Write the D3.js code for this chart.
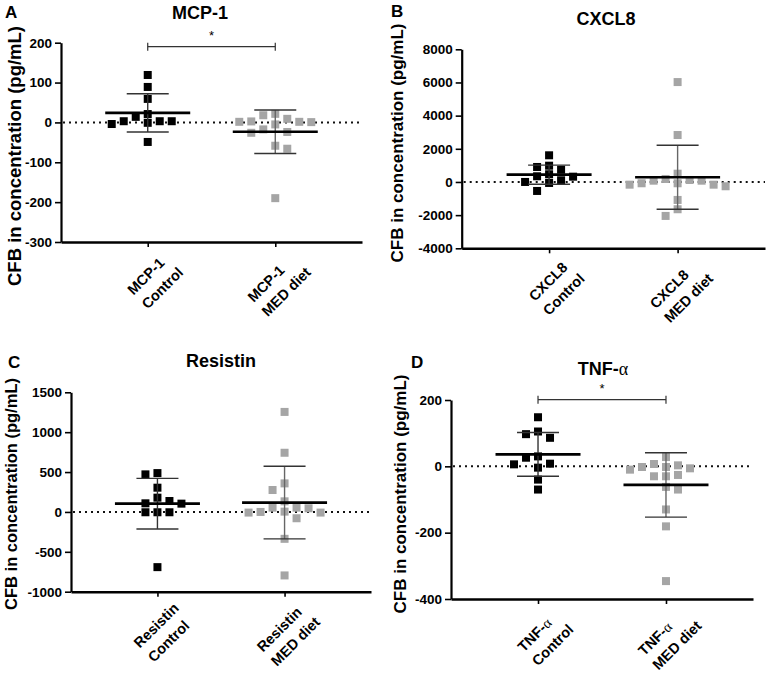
<!DOCTYPE html>
<html><head><meta charset="utf-8">
<script src="https://cdn.jsdelivr.net/npm/d3@7"></script>
<style>
body{margin:0;background:#fff}
svg{display:block}
text{font-family:"Liberation Sans",Arial,Helvetica,sans-serif;fill:#000}
</style>
</head><body>
<svg id="chart" width="767" height="674"></svg>
<script>
// ---------- data ----------
const groups = ["Control", "MED diet"];

const mcpTicks = [-300, -200, -100, 0, 100, 200];
const mcpControl = [14, 3, -1, 59, 119, -4, -49, 89, 3, 3, 21];
const mcpMed = [1.5, 1.5, -17.5, 18, -58.5, -26, 9, -190, -24, -66, 21.5, -5, 0.75, 2.5];
const mcpMean = [24, -23.5];
const mcpSD = [48, 54.5];
const mcpSig = 190;

const cxclTicks = [-4000, -2000, 0, 2000, 4000, 6000, 8000];
const cxclControl = [982, 740, 1608, 343, 319, 464, 904, 0, -60, 102, -542];
const cxclMed = [6024, 2831, 500, 181, 78, -78, -163, -259, -163, -78, 78, 120, -1084, -1645, -2048];
const cxclMean = [440, 283];
const cxclSD = [575, 1928];

const resTicks = [-1000, -500, 0, 500, 1000, 1500];
const resControl = [487, 471, 304, 179, 137, 104, 108, -4, -4, -4, -692];
const resMed = [1254, 742, 358, 275, 133, 54, 4, -8, -79, -8, 0, 46, 54, -337, -796];
const resMean = [104, 117];
const resSD = [317, 455];

const tnfTicks = [-400, -200, 0, 200];
const tnfControl = [148, 105, 86, 97, 26, 30, 6, -4, 8, -40, -70];
const tnfMed = [-2, -6, -26, 28, -30, 7, -30, -10, -2, 3, -62, -70, -130, -181, -346];
const tnfMean = [36, -56];
const tnfSD = [66, 97];
const tnfSig = 201;

const yTitle = "CFB in concentration (pg/mL)";

// ---------- layout ----------
const svg = d3.select("#chart");
const H = 674;
const panels = [
  {letter:"A", name:"MCP-1", alpha:false, ticks:mcpTicks, ctrl:mcpControl, med:mcpMed, mean:mcpMean, sd:mcpSD, sig:mcpSig,
   left:61, right:362, top:42.7, bottom:242, lx:5, ly:18, tx:200, ty:19, ytx:14, yty:156, yts:18.5},
  {letter:"B", name:"CXCL8", alpha:false, ticks:cxclTicks, ctrl:cxclControl, med:cxclMed, mean:cxclMean, sd:cxclSD, sig:null,
   left:461.7, right:765, top:49.3, bottom:248.3, lx:391, ly:17, tx:606, ty:25, ytx:397, yty:143, yts:17},
  {letter:"C", name:"Resistin", alpha:false, ticks:resTicks, ctrl:resControl, med:resMed, mean:resMean, sd:resSD, sig:null,
   left:71, right:371, top:392.3, bottom:591.7, lx:8, ly:368, tx:221, ty:367, ytx:11, yty:494, yts:16.5},
  {letter:"D", name:"TNF-", alpha:true, ticks:tnfTicks, ctrl:tnfControl, med:tnfMed, mean:tnfMean, sd:tnfSD, sig:tnfSig,
   left:451, right:753, top:400, bottom:599, lx:411, ly:368, tx:603, ty:375, ytx:400, yty:494, yts:17}
];

const GREY = "#a5a5a5";
const SQ = 8;
const LFS = 14.5;   // x label font size
const GAP = 20;     // line spacing of x labels

function dodge(vals, y, w, h) {
  const order = vals.map((v, i) => i).sort((a, b) => vals[b] - vals[a]);
  const placed = [];
  const xs = new Array(vals.length);
  let side = -1;
  order.forEach(i => {
    const yi = y(vals[i]);
    const near = placed.filter(p => Math.abs(p.y - yi) < h);
    const cands = [0];
    near.forEach(p => cands.push(p.x - w, p.x + w));
    const ok = c => near.every(p => Math.abs(p.x - c) >= w - 1e-6);
    let best = null;
    cands.filter(ok).forEach(c => {
      if (best === null) { best = c; return; }
      const a = Math.abs(c), b = Math.abs(best);
      if (a < b - 1e-6 || (Math.abs(a - b) < 1e-6 && Math.sign(c) === side)) best = c;
    });
    if (best !== 0) side = -side;
    xs[i] = best;
    placed.push({x: best, y: yi});
  });
  return xs;
}

function nameLine(sel, p) {
  sel.append("tspan").text(p.name);
  if (p.alpha) sel.append("tspan").attr("font-family", "'Liberation Serif','DejaVu Serif',serif").attr("font-weight", "normal").text("\u03b1");
}

panels.forEach(p => {
  const g = svg.append("g");
  const y = d3.scaleLinear().domain(d3.extent(p.ticks)).range([p.bottom, p.top]);
  const x = d3.scalePoint().domain(groups).range([p.left, p.right]).padding(0.68);

  // panel letter and title
  g.append("text").attr("x", p.lx).attr("y", p.ly).attr("font-size", 17).attr("font-weight", "bold").text(p.letter);
  const title = g.append("text").attr("x", p.tx).attr("y", p.ty).attr("text-anchor", "middle")
    .attr("font-size", 18).attr("font-weight", "bold");
  nameLine(title, p);

  // y axis title
  g.append("text").attr("transform", `translate(${p.ytx},${p.yty}) rotate(-90)`)
    .attr("text-anchor", "middle").attr("dy", "0.36em").attr("font-size", p.yts).attr("font-weight", "bold").text(yTitle);

  // y axis
  const ya = g.append("g").attr("transform", `translate(${p.left},0)`)
    .call(d3.axisLeft(y).tickValues(p.ticks).tickSize(6).tickSizeOuter(0).tickPadding(3).tickFormat(d3.format("d")));
  ya.select(".domain").attr("stroke", "#000").attr("stroke-width", 2.2);
  ya.selectAll(".tick line").attr("stroke", "#000").attr("stroke-width", 1.6);
  ya.selectAll(".tick text").attr("font-size", 13.5).attr("font-weight", "bold")
    .attr("font-family", "'Liberation Sans',Arial,sans-serif").attr("fill", "#000")
    .text(d => d < 0 ? "-" + Math.abs(d) : d);

  // x axis
  const xa = g.append("g").attr("transform", `translate(0,${p.bottom})`)
    .call(d3.axisBottom(x).tickSize(5).tickSizeOuter(0).tickFormat(""));
  xa.select(".domain").attr("stroke", "#000").attr("stroke-width", 2.4);
  xa.selectAll(".tick line").attr("stroke", "#000").attr("stroke-width", 1.6);

  // x labels: two left-aligned lines, rotated -45, block's top-right near the tick
  groups.forEach(c => {
    const lg = g.append("g");
    const t1 = lg.append("text").attr("font-size", LFS).attr("font-weight", "bold");
    nameLine(t1, p);
    const t2 = lg.append("text").attr("font-size", LFS).attr("font-weight", "bold").text(c);
    const w1 = t1.node().getComputedTextLength(), w2 = t2.node().getComputedTextLength();
    const W = Math.max(w1, w2);
    const asc = LFS * 0.72;
    t2.attr("x", -W).attr("y", asc);
    t1.attr("x", -W).attr("y", asc - GAP);
    const ax = x(c) + 29;
    // keep the lowest corner of the block inside the picture
    const ay = Math.min(p.bottom + 24, H - 1 - (W + asc + LFS * 0.22) * Math.SQRT1_2);
    lg.attr("transform", `translate(${ax},${ay}) rotate(-45)`);
  });

  // zero dotted line
  g.append("line").attr("x1", p.left + 2).attr("x2", p.right).attr("y1", y(0)).attr("y2", y(0))
    .attr("stroke", "#111").attr("stroke-width", 2).attr("stroke-dasharray", "2,4");

  // points
  [[p.ctrl, "#000"], [p.med, GREY]].forEach(([vals, col], gi) => {
    const off = dodge(vals, y, 12, 8.5);
    g.append("g").selectAll("rect").data(vals).join("rect")
      .attr("x", (d, i) => x(groups[gi]) + off[i] - SQ / 2)
      .attr("y", d => y(d) - SQ / 2)
      .attr("width", SQ).attr("height", SQ).attr("fill", col);
  });

  // mean and SD
  groups.forEach((c, gi) => {
    const cx = x(c), m = p.mean[gi], s = p.sd[gi];
    const eg = g.append("g").attr("stroke", "#333").attr("stroke-width", 1.4);
    eg.append("line").attr("x1", cx).attr("x2", cx).attr("y1", y(m + s)).attr("y2", y(m - s))
      .attr("stroke", gi === 1 ? "#666" : "#333");
    eg.append("line").attr("x1", cx - 21).attr("x2", cx + 21).attr("y1", y(m + s)).attr("y2", y(m + s));
    eg.append("line").attr("x1", cx - 21).attr("x2", cx + 21).attr("y1", y(m - s)).attr("y2", y(m - s));
    g.append("line").attr("x1", cx - 42.5).attr("x2", cx + 42.5).attr("y1", y(m)).attr("y2", y(m))
      .attr("stroke", "#000").attr("stroke-width", 2.6);
  });

  // significance bracket
  if (p.sig !== null) {
    const sy = y(p.sig), x1 = x(groups[0]), x2 = x(groups[1]);
    const bg = g.append("g").attr("stroke", "#333").attr("stroke-width", 1.2);
    bg.append("line").attr("x1", x1).attr("x2", x2).attr("y1", sy).attr("y2", sy);
    bg.append("line").attr("x1", x1).attr("x2", x1).attr("y1", sy - 4).attr("y2", sy + 4);
    bg.append("line").attr("x1", x2).attr("x2", x2).attr("y1", sy - 4).attr("y2", sy + 4);
    g.append("text").attr("x", (x1 + x2) / 2).attr("y", sy - 7).attr("text-anchor", "middle")
      .attr("font-size", 13).text("*");
  }
});
</script>
</body></html>
